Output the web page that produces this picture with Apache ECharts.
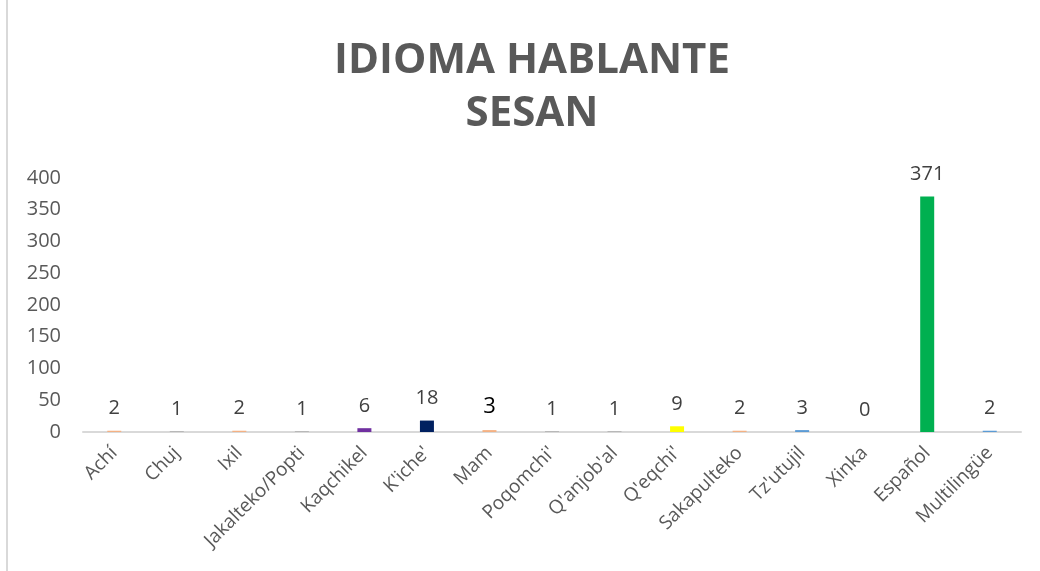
<!DOCTYPE html>
<html>
<head>
<meta charset="utf-8">
<script src="https://cdn.jsdelivr.net/npm/echarts@6/dist/echarts.min.js"></script>
<style>
  html, body { margin: 0; padding: 0; background: #fff; }
  #chart { height: 571px; box-sizing: border-box; border-left: 2px solid #d9d9d9; margin-left: 6px; width: 1034px; }
</style>
</head>
<body>
<div id="chart"></div>
<script>
const categories = ['Achí', 'Chuj', 'Ixil', 'Jakalteko/Popti', 'Kaqchikel', "K'iche'", 'Mam', "Poqomchi'",
  "Q'anjob'al", "Q'eqchi'", 'Sakapulteko', "Tz'utujil", 'Xinka', 'Español', 'Multilingüe'];
const values = [2, 1, 2, 1, 6, 18, 3, 1, 1, 9, 2, 3, 0, 371, 2];
const barColors = ['#F4B183', '#A5A5A5', '#F4B183', '#A5A5A5', '#7030A0', '#002060', '#F4B183', '#A5A5A5',
  '#A5A5A5', '#FFFF00', '#F4B183', '#5B9BD5', '#A5A5A5', '#00B050', '#5B9BD5'];
const yTicks = [0, 400, 50];

let chart = echarts.init(document.getElementById('chart'));
let option = {
  animation: false,
  title: {
    text: 'IDIOMA HABLANTE\nSESAN',
    left: 519,
    textAlign: 'center',
    top: 30,
    textStyle: {
      fontFamily: 'Open Sans',
      fontWeight: 'bold',
      fontSize: 42,
      color: '#595959',
      lineHeight: 53
    }
  },
  grid: { left: 75, right: 19, top: 178, bottom: 139 },
  xAxis: {
    type: 'category',
    data: categories,
    axisLine: { lineStyle: { color: '#d9d9d9', width: 2 } },
    axisTick: { show: false },
    axisLabel: {
      rotate: 45,
      interval: 0,
      fontFamily: 'Open Sans',
      fontSize: 19,
      color: '#595959',
      margin: 18
    }
  },
  yAxis: {
    type: 'value',
    min: yTicks[0],
    max: yTicks[1],
    interval: yTicks[2],
    splitLine: { show: false },
    axisLine: { show: false },
    axisLabel: {
      fontFamily: 'Open Sans',
      fontSize: 20,
      color: '#595959',
      margin: 22
    }
  },
  series: [{
    type: 'bar',
    barWidth: 14,
    data: values.map((v, i) => ({
      value: v,
      itemStyle: { color: barColors[i] },
      label: i === 6 ? { color: '#000', fontSize: 22 } : undefined
    })),
    label: {
      show: true,
      position: 'top',
      distance: 12,
      fontFamily: 'Open Sans',
      fontSize: 20,
      color: '#404040'
    }
  }]
};
chart.setOption(option);
</script>
</body>
</html>
